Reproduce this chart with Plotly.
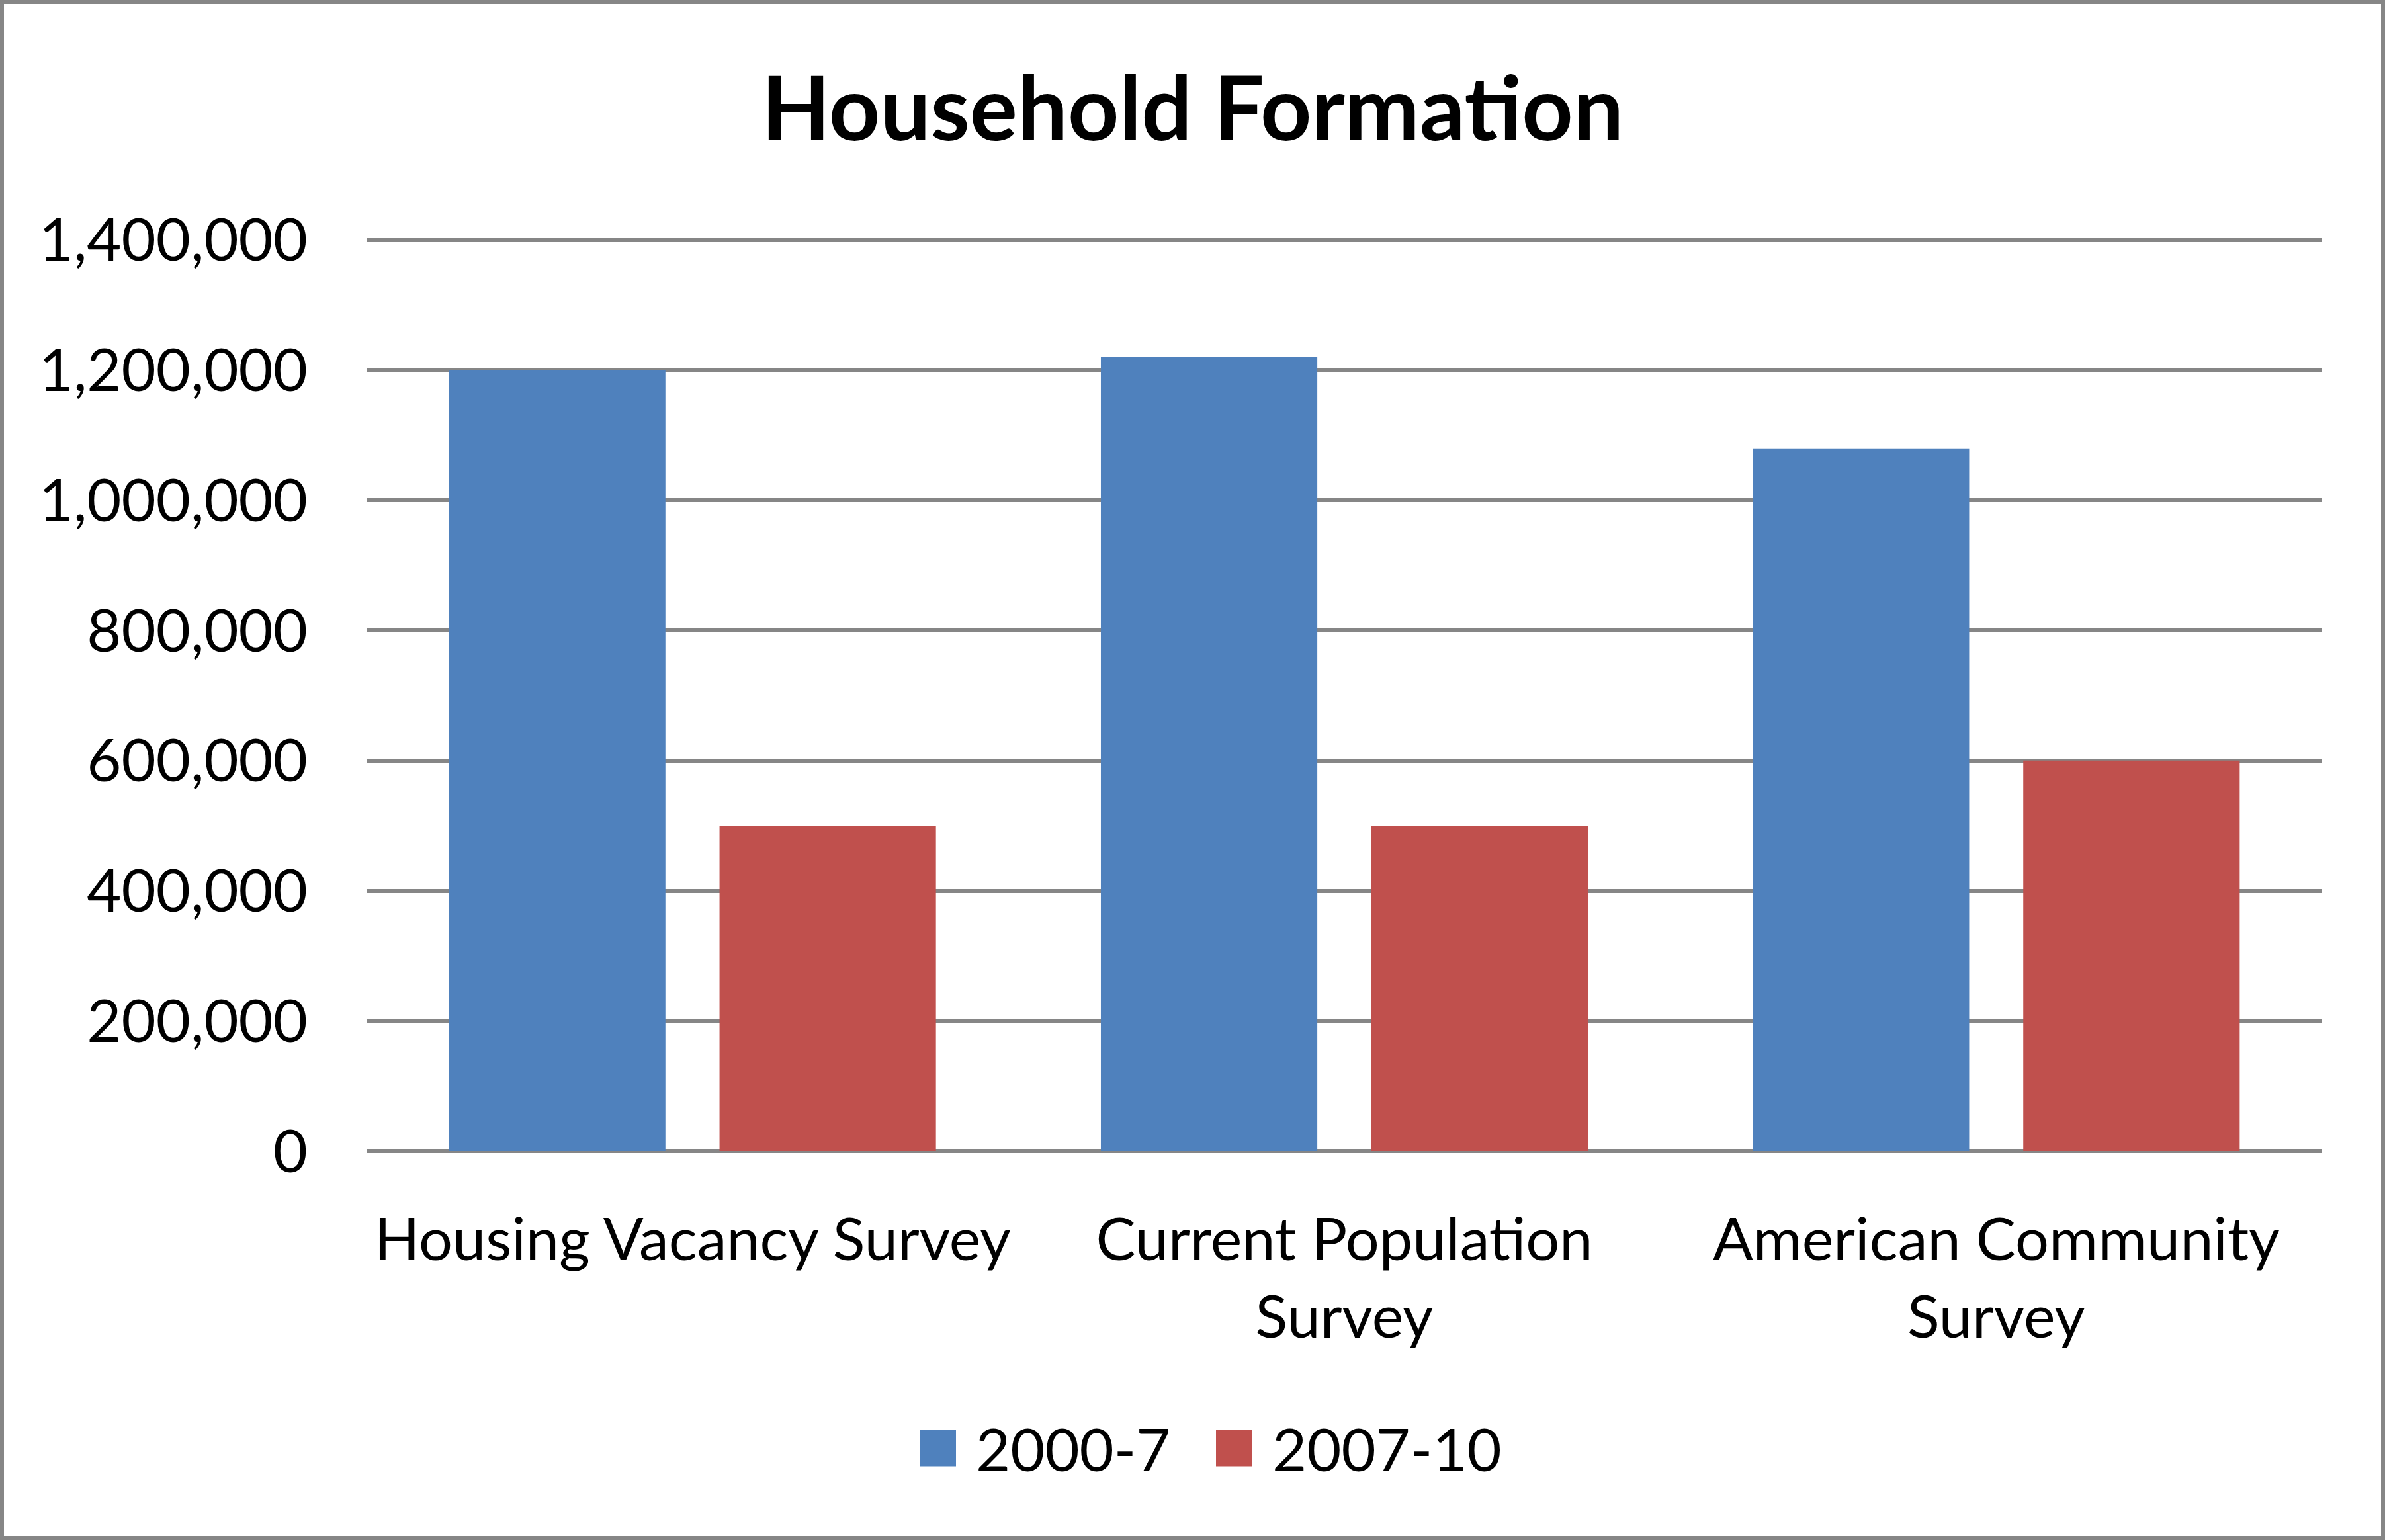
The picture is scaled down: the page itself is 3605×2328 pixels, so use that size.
import plotly.graph_objects as go

# ---- data ----
categories = ["Housing Vacancy Survey", "Current Population<br>Survey", "American Community<br>Survey"]
series_names = ["2000-7", "2007-10"]
values_2000_7 = [1200000, 1220000, 1080000]
values_2007_10 = [500000, 500000, 600000]
y_ticks = [0, 200000, 400000, 600000, 800000, 1000000, 1200000, 1400000]
title_text = "Household Formation"

colors = ["#4F81BD", "#C0504D"]
FONT = "Lato"

# ---- layout geometry (pixels) ----
W, H = 3605, 2328
L, R, T, B = 554, 95, 360, 588
PW, PH = W - L - R, H - T - B
Y_MAX = 1403000


def px_x(px):
    return (px - L) / PW


def px_y(py):
    return (H - B - py) / PH


fig = go.Figure()
for name, vals, col in zip(series_names, [values_2000_7, values_2007_10], colors):
    fig.add_trace(go.Bar(x=categories, y=vals, name=name, marker=dict(color=col, line=dict(width=0)),
                         showlegend=False))

fig.update_layout(
    width=W, height=H,
    margin=dict(l=L, r=R, t=T, b=B, pad=0),
    paper_bgcolor="white", plot_bgcolor="white",
    barmode="group", bargap=0.17, bargroupgap=0.2,
    font=dict(family=FONT, size=90, color="black"),
    title=dict(text=title_text, x=0.5, xref="container", xanchor="center",
               y=1 - 165 / H, yref="container", yanchor="middle",
               font=dict(family=FONT, size=135, color="black", weight=700)),
    xaxis=dict(showgrid=False, showline=False, ticks="", zeroline=False,
               tickfont=dict(family=FONT, size=90, color="black"), ticklabelstandoff=74,
               tickangle=0),
    yaxis=dict(range=[0, Y_MAX], tickvals=y_ticks, tickformat=",", showgrid=True,
               gridcolor="#868686", gridwidth=5.5, zeroline=True, zerolinecolor="#868686",
               zerolinewidth=5.5, showline=False, ticks="", ticklabelstandoff=88,
               tickfont=dict(family=FONT, size=90, color="black")),
)

# outer chart border
fig.add_shape(type="rect", xref="paper", yref="paper",
              x0=px_x(3), x1=px_x(W - 3), y0=px_y(H - 3), y1=px_y(3),
              line=dict(color="#868686", width=6), fillcolor="rgba(0,0,0,0)", layer="below")

# legend (drawn to match large square swatches)
square_left = [1390, 1838]
sq = 55
cy = 2189
for name, col, sx in zip(series_names, colors, square_left):
    fig.add_shape(type="rect", xref="paper", yref="paper",
                  x0=px_x(sx), x1=px_x(sx + sq), y0=px_y(cy + sq / 2), y1=px_y(cy - sq / 2),
                  line=dict(width=0), fillcolor=col)
    fig.add_annotation(text=name, xref="paper", yref="paper", x=px_x(sx + sq + 28), y=px_y(cy),
                       xanchor="left", yanchor="middle", showarrow=False,
                       font=dict(family=FONT, size=90, color="black"))

fig.write_html("out.html")
